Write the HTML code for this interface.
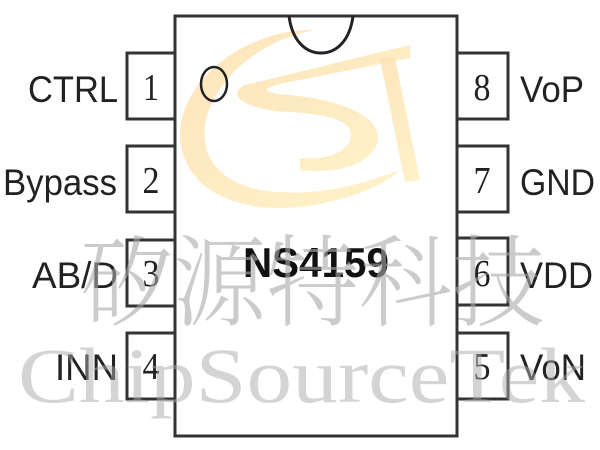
<!DOCTYPE html>
<html><head><style>
html,body{margin:0;padding:0;background:#fff;width:600px;height:450px;overflow:hidden}
</style></head><body>
<svg width="600" height="450" xmlns="http://www.w3.org/2000/svg">
<defs><linearGradient id="g" x1="0" y1="0" x2="1" y2="1">
<stop offset="0" stop-color="#fde0b0"/><stop offset="1" stop-color="#fff0c0"/></linearGradient></defs>
<!-- logo -->
<path d="M310,30 C250,30 185,75 180,130 C178,185 230,210 285,208 C330,206 380,190 400,170 C360,185 320,195 280,192 C230,190 200,165 205,125 C212,80 260,40 315,30 Z" fill="url(#g)" opacity="0.85"/>
<path d="M410,45 L245,85 C225,95 245,110 290,112 C340,115 355,125 350,140 C345,155 320,160 300,158 L300,170 C345,175 375,160 378,140 C380,115 340,100 290,95 C260,93 255,88 300,80 L410,58 Z" fill="url(#g)" opacity="0.85"/>
<path d="M380,58 L395,58 L420,180 L405,182 Z" fill="url(#g)" opacity="0.85"/>
<!-- body -->
<rect x="175" y="16" width="282" height="420" fill="none" stroke="#333" stroke-width="3"/>
<path d="M289,16 C292,40 305,53 321,53 C337,53 350,40 353,16" fill="none" stroke="#222" stroke-width="3"/>
<ellipse cx="214" cy="84" rx="13" ry="17" fill="none" stroke="#222" stroke-width="2.5"/>
<!-- pins -->
<g fill="none" stroke="#333" stroke-width="3">
<rect x="127" y="53" width="48" height="66"/>
<rect x="127" y="146" width="48" height="66"/>
<rect x="127" y="240" width="48" height="66"/>
<rect x="127" y="333" width="48" height="66"/>
<rect x="457" y="53" width="51" height="66"/>
<rect x="457" y="146" width="51" height="66"/>
<rect x="457" y="238" width="51" height="67"/>
<rect x="457" y="333" width="51" height="66"/>
</g>
<g font-family="Liberation Serif, serif" font-size="38" fill="#222" text-anchor="middle">
<text x="151" y="100" textLength="16" lengthAdjust="spacingAndGlyphs">1</text><text x="151" y="193" textLength="17" lengthAdjust="spacingAndGlyphs">2</text><text x="151" y="286" textLength="17" lengthAdjust="spacingAndGlyphs">3</text><text x="151" y="379" textLength="17" lengthAdjust="spacingAndGlyphs">4</text>
<text x="482" y="100" textLength="17" lengthAdjust="spacingAndGlyphs">8</text><text x="482" y="193" textLength="17" lengthAdjust="spacingAndGlyphs">7</text><text x="482" y="286" textLength="17" lengthAdjust="spacingAndGlyphs">6</text><text x="482" y="379" textLength="17" lengthAdjust="spacingAndGlyphs">5</text>
</g>
<g font-family="Liberation Sans, sans-serif" font-size="37" fill="#222" lengthAdjust="spacingAndGlyphs">
<text x="28" y="102" textLength="90" lengthAdjust="spacingAndGlyphs">CTRL</text>
<text x="3" y="195" textLength="114" lengthAdjust="spacingAndGlyphs">Bypass</text>
<text x="32" y="288" textLength="86" lengthAdjust="spacingAndGlyphs">AB/D</text>
<text x="55" y="380" textLength="63" lengthAdjust="spacingAndGlyphs">INN</text>
<text x="520" y="102" textLength="64" lengthAdjust="spacingAndGlyphs">VoP</text>
<text x="520" y="195" textLength="75" lengthAdjust="spacingAndGlyphs">GND</text>
<text x="520" y="288" textLength="73" lengthAdjust="spacingAndGlyphs">VDD</text>
<text x="520" y="380" textLength="66" lengthAdjust="spacingAndGlyphs">VoN</text>
</g>
<text x="316" y="277" text-anchor="middle" font-family="Liberation Sans, sans-serif" font-weight="bold" font-size="42" fill="#111" textLength="146" lengthAdjust="spacingAndGlyphs">NS4159</text>
<!-- watermarks -->
<text x="80" y="318" font-family="Noto Serif CJK SC, serif" font-weight="300" font-size="100" fill="#aaa" opacity="0.6" textLength="465" lengthAdjust="spacingAndGlyphs">矽源特科技</text>
<text x="18" y="402" font-family="Liberation Serif, serif" font-size="78" fill="#aaa" opacity="0.5" textLength="567" lengthAdjust="spacingAndGlyphs">ChipSourceTek</text>
</svg>
</body></html>
